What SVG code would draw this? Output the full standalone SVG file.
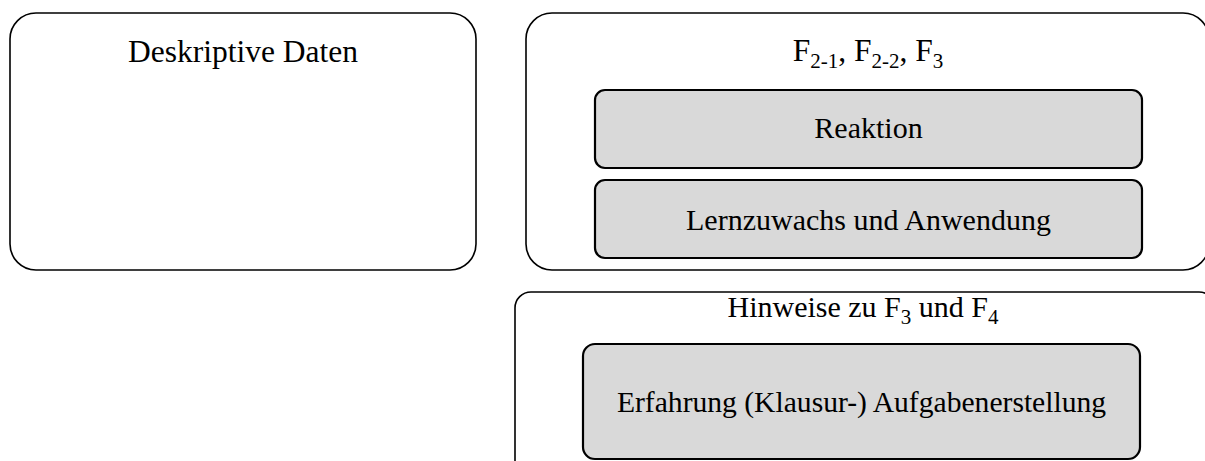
<svg xmlns="http://www.w3.org/2000/svg" width="1205" height="461" viewBox="0 0 1205 461">
  <style>
    .panel { fill: #ffffff; stroke: #000000; stroke-width: 1.6; }
    .item { fill: #d9d9d9; stroke: #000000; stroke-width: 2.2; }
    .label { font-family: "Liberation Serif", "Times New Roman", serif; font-size: 30px; fill: #000000; text-anchor: middle; }
    .title { font-size: 31.5px; }
    .small { font-size: 29.6px; }
    .sub { font-size: 21px; }
  </style>
  <rect width="1205" height="461" fill="#ffffff"/>

  <g id="descriptive">
    <rect class="panel" x="10" y="13" width="466" height="257" rx="26" ry="26"/>
    <text class="label title" x="243" y="61.5">Deskriptive Daten</text>
  </g>

  <g id="questions">
    <rect class="panel" x="526" y="13" width="683" height="257" rx="26" ry="26"/>
    <text class="label title" x="868" y="61">F<tspan class="sub" dy="7">2-1</tspan><tspan dy="-7">, F</tspan><tspan class="sub" dy="7">2-2</tspan><tspan dy="-7">, F</tspan><tspan class="sub" dy="7">3</tspan></text>
  </g>

  <g id="reaction">
    <rect class="item" x="595" y="90" width="547" height="78" rx="10" ry="10"/>
    <text class="label" x="868.5" y="137.5">Reaktion</text>
  </g>

  <g id="learning">
    <rect class="item" x="595" y="180" width="547" height="78" rx="10" ry="10"/>
    <text class="label" x="868.5" y="229.5">Lernzuwachs und Anwendung</text>
  </g>

  <g id="notes">
    <rect class="panel" x="515" y="292" width="700" height="190" rx="16" ry="16"/>
    <text class="label" x="863" y="316.5">Hinweise zu F<tspan class="sub" dy="7">3</tspan><tspan dy="-7"> und F</tspan><tspan class="sub" dy="7">4</tspan></text>
  </g>

  <g id="experience">
    <rect class="item" x="583" y="344" width="557" height="115" rx="12" ry="12"/>
    <text class="label small" x="861.5" y="411.5">Erfahrung (Klausur-) Aufgabenerstellung</text>
  </g>

  <g id="connectors"/>
</svg>
